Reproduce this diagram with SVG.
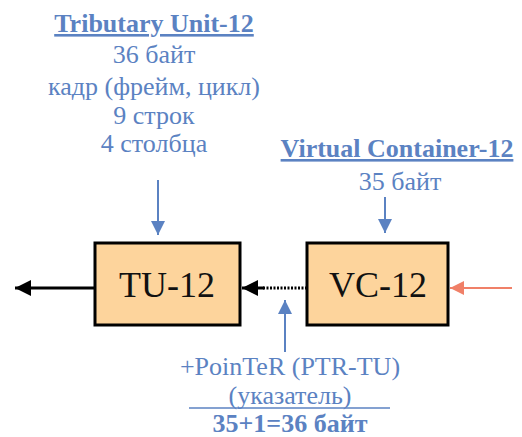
<svg xmlns="http://www.w3.org/2000/svg" width="522" height="437" viewBox="0 0 522 437">
<style>
.lbl{font-family:"Liberation Serif","DejaVu Serif",serif;fill:#5b82c2;text-anchor:middle;font-size:26px}
.b{font-weight:bold}
.box{fill:#fdd49c;stroke:#000;stroke-width:3}
.nt{font-family:"Liberation Serif","DejaVu Serif",serif;font-size:36px;fill:#111;text-anchor:middle}
</style>
<defs>
<marker id="ab" viewBox="0 0 10 10" refX="10" refY="5" markerWidth="20" markerHeight="14" markerUnits="userSpaceOnUse" orient="auto"><path d="M0,0 L10,5 L0,10 z" fill="#5b82c2"/></marker>
<marker id="ak" viewBox="0 0 10 10" refX="10" refY="5" markerWidth="22" markerHeight="16" markerUnits="userSpaceOnUse" orient="auto"><path d="M0,0 L10,5 L0,10 z" fill="#000"/></marker>
<marker id="ar" viewBox="0 0 10 10" refX="10" refY="5" markerWidth="20" markerHeight="14" markerUnits="userSpaceOnUse" orient="auto"><path d="M0,0 L10,5 L0,10 z" fill="#f08068"/></marker>
</defs>
<g id="connectors">
<line x1="95" y1="288" x2="15" y2="288" stroke="#000" stroke-width="3" marker-end="url(#ak)"/>
<line x1="307" y1="288" x2="262" y2="288" stroke="#000" stroke-width="3" stroke-dasharray="2,1.5"/>
<line x1="264" y1="288" x2="242" y2="288" stroke="#000" stroke-width="3" marker-end="url(#ak)"/>
<line x1="512" y1="288" x2="450" y2="288" stroke="#f08068" stroke-width="2" marker-end="url(#ar)"/>
<line x1="158" y1="180" x2="158" y2="235" stroke="#5b82c2" stroke-width="2" marker-end="url(#ab)"/>
<line x1="385" y1="197" x2="385" y2="233" stroke="#5b82c2" stroke-width="2" marker-end="url(#ab)"/>
<line x1="285" y1="352" x2="285" y2="300" stroke="#5b82c2" stroke-width="2" marker-end="url(#ab)"/>
</g>
<g id="tu12">
<rect class="box" x="95" y="243" width="145" height="82"/>
<text class="nt" x="167" y="297">TU-12</text>
</g>
<g id="vc12">
<rect class="box" x="307" y="243" width="141" height="82"/>
<text class="nt" x="378" y="297">VC-12</text>
</g>
<g id="tu-label">
<text class="lbl b" x="154" y="32" font-size="28" text-decoration="underline">Tributary Unit-12</text>
<text class="lbl" x="154" y="63">36 байт</text>
<text class="lbl" x="154" y="95">кадр (фрейм, цикл)</text>
<text class="lbl" x="154" y="124">9 строк</text>
<text class="lbl" x="154" y="152">4 столбца</text>
</g>
<g id="vc-label">
<text class="lbl b" x="397" y="157" font-size="28" text-decoration="underline">Virtual Container-12</text>
<text class="lbl" x="400" y="190">35 байт</text>
</g>
<g id="ptr-label">
<text class="lbl" x="290" y="375">+PoinTeR (PTR-TU)</text>
<text class="lbl" x="290" y="404">(указатель)</text>
<line x1="189" y1="408" x2="390" y2="408" stroke="#5b82c2" stroke-width="1.5"/>
<text class="lbl b" x="290" y="432">35+1=36 байт</text>
</g>
</svg>
